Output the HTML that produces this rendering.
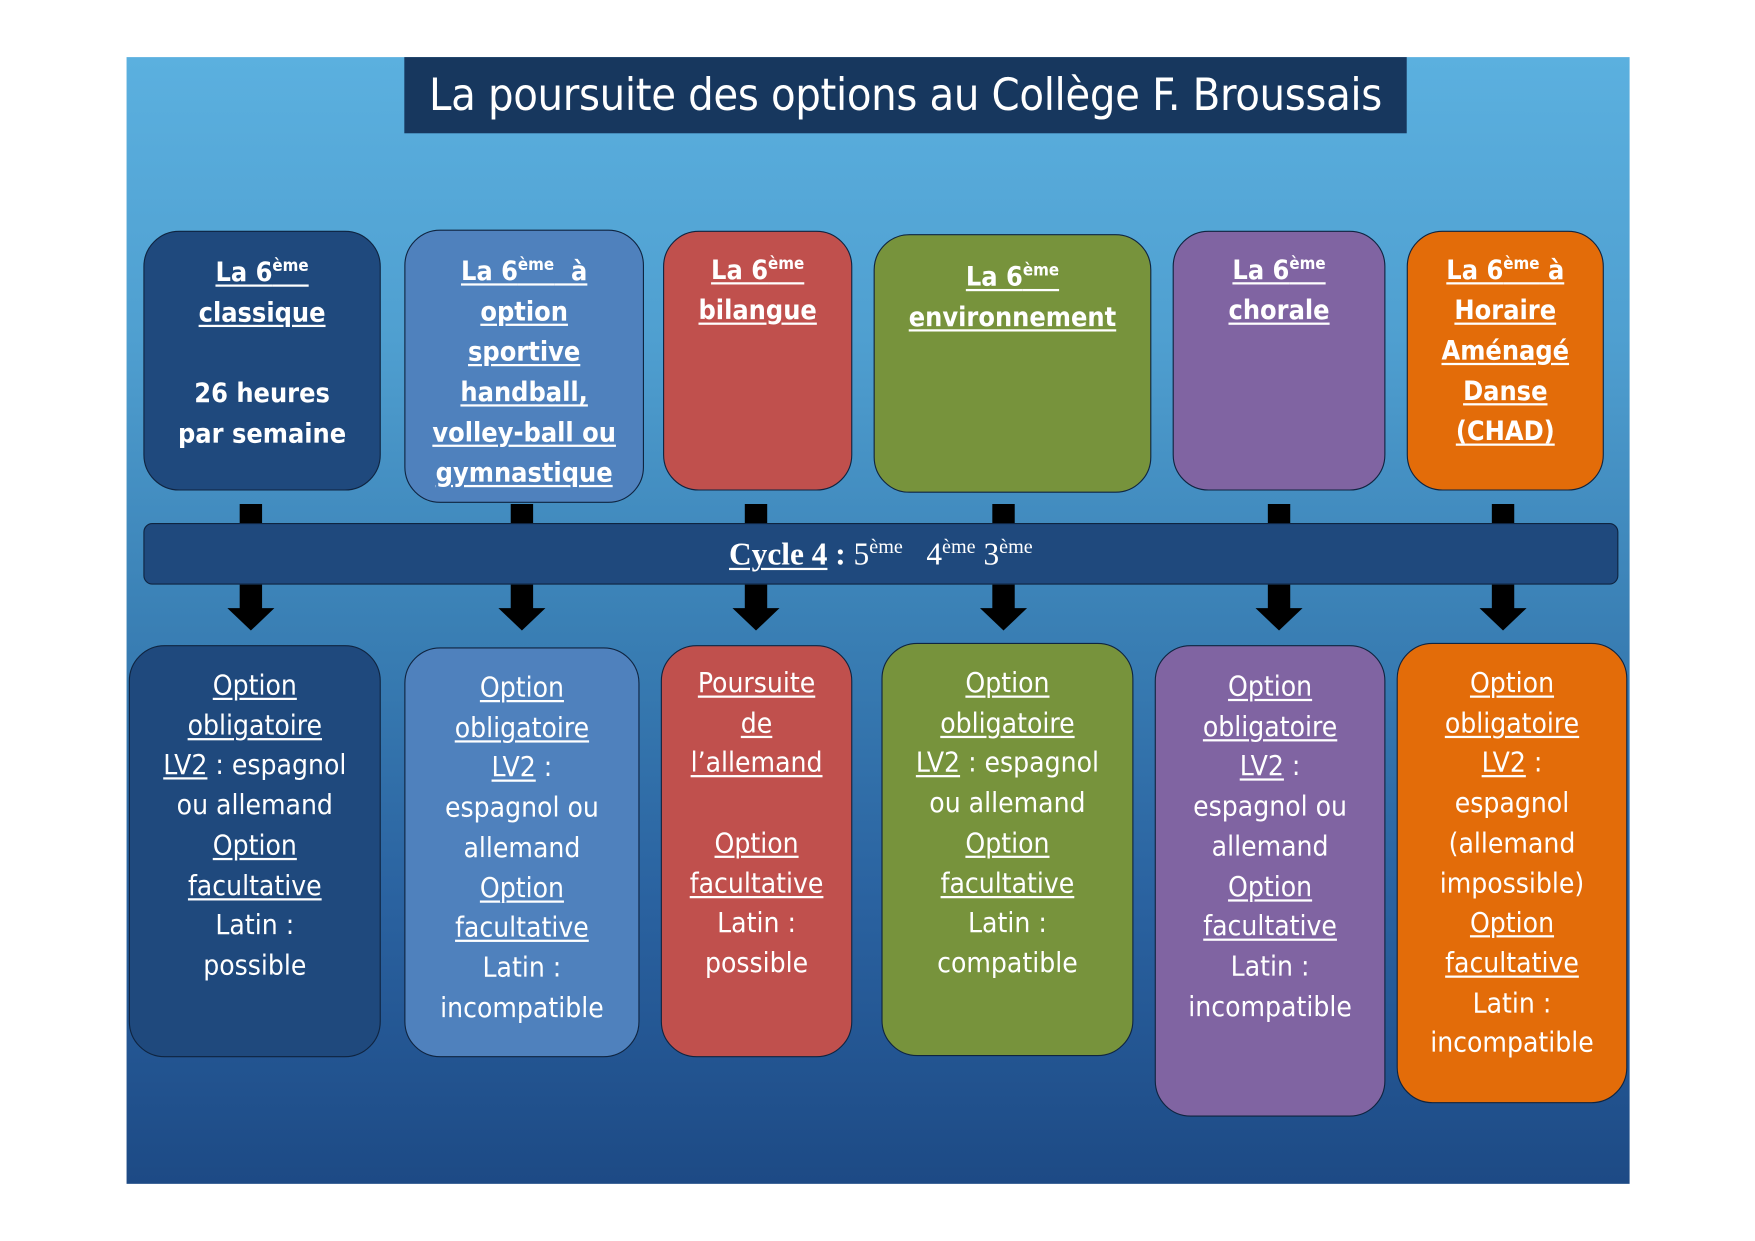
<!DOCTYPE html>
<html><head><meta charset="utf-8"><style>
html,body{margin:0;padding:0;background:#fff;width:1755px;height:1241px;overflow:hidden}
#s{position:absolute;left:0;top:0;width:1560px;height:1103px;transform:scale(1.12);transform-origin:0 0}
.bg{position:absolute;left:113px;top:51px;width:1342px;height:1006px;background:linear-gradient(#5bb0df 0%,#4f9fd0 25%,#3a80b5 50%,#2a62a0 75%,#1d4a85 100%)}
.title{position:absolute;left:361px;top:51px;width:895px;height:68px;background:#17375e;color:#fff;font:40px "DejaVu Sans Condensed","Liberation Sans",sans-serif;text-align:center;line-height:68px;letter-spacing:-0.3px}
.b{position:absolute;box-sizing:border-box;border:1.5px solid #0f2440;border-radius:32px;color:#fff;text-align:center;font-family:"DejaVu Sans Condensed","Liberation Sans",sans-serif}
.t{font-weight:bold;font-size:24px;line-height:36px;padding-top:18px}
.o{font-size:25px;line-height:35.7px;padding-top:17px}
u{text-decoration-thickness:2px;text-underline-offset:3px}
sup{font-size:15px;line-height:0}
.stem{position:absolute;width:20px;background:#000}
.head{position:absolute;width:0;height:0;border-left:21px solid transparent;border-right:21px solid transparent;border-top:20px solid #000}
.bar{position:absolute;left:128px;top:467px;width:1317px;height:55px;box-sizing:border-box;background:#1f497d;border:1.5px solid #0f2440;border-radius:8px;text-align:center;color:#fff;font:28px "Liberation Serif",serif;line-height:56px}
.bar sup{font-size:18px}
</style></head><body><div id="s">
<div class="bg"></div>
<div class="title">La poursuite des options au Collège F. Broussais</div>

<div class="b t" style="left:128px;top:206px;width:212px;height:232px;background:#1f497d"><u>La 6<sup>ème</sup></u><br><u>classique</u><br><br>26 heures<br>par semaine</div>
<div class="b t" style="left:361px;top:205px;width:214px;height:244px;background:#4f81bd"><u>La 6<sup>ème</sup>&nbsp; à</u><br><u>option</u><br><u>sportive</u><br><u>handball,</u><br><u>volley-ball ou</u><br><u>gymnastique</u></div>
<div class="b t" style="left:592px;top:206px;width:169px;height:232px;background:#c0504d;padding-top:16px"><u>La 6<sup>ème</sup></u><br><u>bilangue</u></div>
<div class="b t" style="left:780px;top:209px;width:248px;height:231px;background:#77933c;padding-top:19px"><u>La 6<sup>ème</sup></u><br><u>environnement</u></div>
<div class="b t" style="left:1047px;top:206px;width:190px;height:232px;background:#8064a2;padding-top:16px"><u>La 6<sup>ème</sup></u><br><u>chorale</u></div>
<div class="b t" style="left:1256px;top:206px;width:176px;height:232px;background:#e36c09;padding-top:16px"><u>La 6<sup>ème</sup> à</u><br><u>Horaire</u><br><u>Aménagé</u><br><u>Danse</u><br><u>(CHAD)</u></div>

<div class="stem" style="left:214px;top:450px;height:18px"></div>
<div class="stem" style="left:456px;top:450px;height:18px"></div>
<div class="stem" style="left:665px;top:450px;height:18px"></div>
<div class="stem" style="left:886px;top:450px;height:18px"></div>
<div class="stem" style="left:1132px;top:450px;height:18px"></div>
<div class="stem" style="left:1332px;top:450px;height:18px"></div>

<div class="bar"><b><u>Cycle 4</u> :</b> 5<sup>ème</sup> &nbsp; 4<sup>ème</sup> 3<sup>ème</sup></div>

<div class="stem" style="left:214px;top:522px;height:22px"></div><div class="head" style="left:203px;top:543px"></div>
<div class="stem" style="left:456px;top:522px;height:22px"></div><div class="head" style="left:445px;top:543px"></div>
<div class="stem" style="left:665px;top:522px;height:22px"></div><div class="head" style="left:654px;top:543px"></div>
<div class="stem" style="left:886px;top:522px;height:22px"></div><div class="head" style="left:875px;top:543px"></div>
<div class="stem" style="left:1132px;top:522px;height:22px"></div><div class="head" style="left:1121px;top:543px"></div>
<div class="stem" style="left:1332px;top:522px;height:22px"></div><div class="head" style="left:1321px;top:543px"></div>

<div class="b o" style="left:115px;top:576px;width:225px;height:368px;background:#1f497d"><u>Option</u><br><u>obligatoire</u><br><u>LV2</u> : espagnol<br>ou allemand<br><u>Option</u><br><u>facultative</u><br>Latin :<br>possible</div>
<div class="b o" style="left:361px;top:578px;width:210px;height:366px;background:#4f81bd"><u>Option</u><br><u>obligatoire</u><br><u>LV2</u> :<br>espagnol ou<br>allemand<br><u>Option</u><br><u>facultative</u><br>Latin :<br>incompatible</div>
<div class="b o" style="left:590px;top:576px;width:171px;height:368px;background:#c0504d;padding-top:15px"><u>Poursuite</u><br><u>de</u><br><u>l’allemand</u><br><br><u>Option</u><br><u>facultative</u><br>Latin :<br>possible</div>
<div class="b o" style="left:787px;top:574px;width:225px;height:369px;background:#77933c"><u>Option</u><br><u>obligatoire</u><br><u>LV2</u> : espagnol<br>ou allemand<br><u>Option</u><br><u>facultative</u><br>Latin :<br>compatible</div>
<div class="b o" style="left:1031px;top:576px;width:206px;height:421px;background:#8064a2;padding-top:18px"><u>Option</u><br><u>obligatoire</u><br><u>LV2</u> :<br>espagnol ou<br>allemand<br><u>Option</u><br><u>facultative</u><br>Latin :<br>incompatible</div>
<div class="b o" style="left:1247px;top:574px;width:206px;height:411px;background:#e36c09"><u>Option</u><br><u>obligatoire</u><br><u>LV2</u> :<br>espagnol<br>(allemand<br>impossible)<br><u>Option</u><br><u>facultative</u><br>Latin :<br>incompatible</div>
</div></body></html>
